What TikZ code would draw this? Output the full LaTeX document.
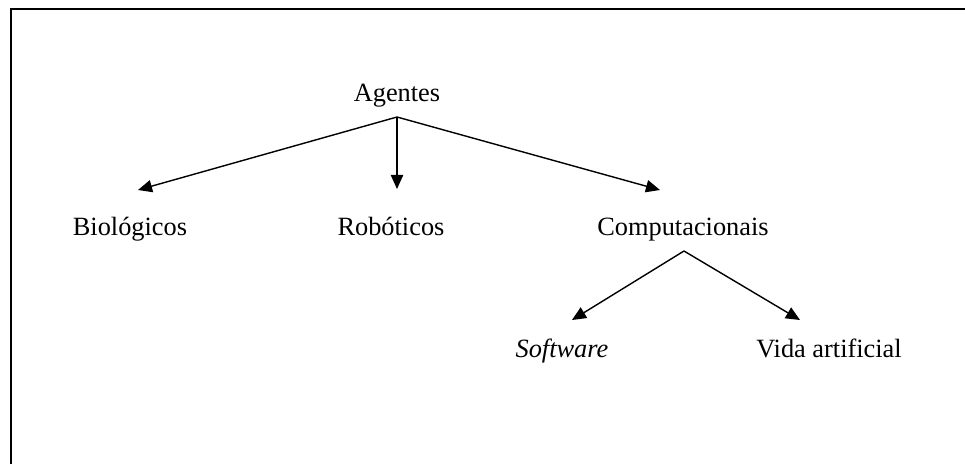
\documentclass[tikz,border=0pt]{standalone}
\usepackage{fontspec}
\setmainfont{Liberation Serif}
\usetikzlibrary{arrows.meta}
\begin{document}
\begin{tikzpicture}[x=0.02cm, y=-0.02cm,
  lbl/.style={inner sep=0pt, anchor=base, font=\fontsize{15}{18}\selectfont},
  arr/.style={line width=0.8pt, -{Triangle[length=8pt, width=7pt]}}]
\useasboundingbox (0,0) rectangle (965,464);

% frame (only top and left edges show)
\draw[line width=1.2pt] (11,464) -- (11,9) -- (965,9);

% ---------- first level ----------
\node[lbl] (ag) at (397,101) {Agentes};
\node[lbl] (bio) at (130,235) {Biológicos};
\node[lbl] (rob) at (391,235) {Robóticos};
\node[lbl] (comp) at (683,235) {Computacionais};

\coordinate (agfork) at (397,117);
\coordinate (biotip) at (138,190);
\coordinate (robtip) at (397,189);
\coordinate (comptip) at (660,190);

\draw[arr] (agfork) -- (biotip);
\draw[arr] (agfork) -- (robtip);
\draw[arr] (agfork) -- (comptip);

% ---------- second level ----------
\node[lbl] (soft) at (562,357) {\textit{Software}};
\node[lbl] (vida) at (829,357) {Vida artificial};

\coordinate (compfork) at (684,251);
\coordinate (softtip) at (572,320);
\coordinate (vidatip) at (800,320);

\draw[arr] (compfork) -- (softtip);
\draw[arr] (compfork) -- (vidatip);

\end{tikzpicture}
\end{document}
